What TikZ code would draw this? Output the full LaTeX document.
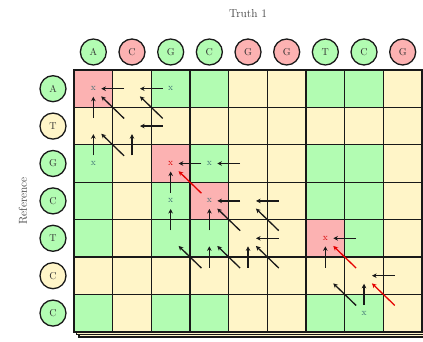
\documentclass[tikz,border=0pt]{standalone}
\usetikzlibrary{arrows.meta}
\definecolor{cgreen}{RGB}{178,252,178}
\definecolor{cred}{RGB}{252,178,178}
\definecolor{cyel}{RGB}{255,245,200}
\definecolor{xcol}{RGB}{60,110,115}
\definecolor{linec}{RGB}{25,25,25}
\begin{document}
\begin{tikzpicture}[x=1pt,y=-1pt,
  cell/.style={draw=linec, line width=1.4pt, minimum width=38.67pt, minimum height=37.4pt, inner sep=0pt},
  lab/.style={circle, draw=linec, line width=1.3pt, minimum size=26pt, inner sep=0pt, font=\fontsize{10}{10}\selectfont, text=black!80},
  xm/.style={inner sep=0pt, font=\fontsize{9.5}{9.5}\selectfont, text=xcol},
  xr/.style={xm, text=red!85!black},
  arr/.style={-{Stealth[length=4.6pt,width=4.6pt]}, line width=1.3pt, draw=linec, shorten <=8pt, shorten >=8pt},
  darr/.style={arr, shorten <=11pt, shorten >=11pt},
  rarr/.style={darr, draw=red!90!black},
  shad/.style={draw=linec, line width=1.2pt, fill=cyel}]
\useasboundingbox (0,0) rectangle (423,342);
\clip (0,0) rectangle (423,342);
% title and side label
\node[font=\fontsize{11.5}{11.5}\selectfont, text=black!75] (title) at (248,14) {Truth 1};
\node[rotate=90, font=\fontsize{11.5}{11.5}\selectfont, text=black!75] (ref) at (23,201) {Reference};
% shadow copies
\draw[shad] (79,75) rectangle (427,337);
\draw[shad] (76.5,72.5) rectangle (424.5,334.5);
% cells
\def\colg{{1,0,1,1,0,0,1,1,0}}
\def\rowg{{1,0,1,1,1,0,1}}
\foreach \r in {1,...,7}{
  \foreach \c in {1,...,9}{
    \pgfmathtruncatemacro\g{\colg[\c-1]*\rowg[\r-1]}
    \pgfmathtruncatemacro\k{\r*10+\c}
    \pgfmathtruncatemacro\isred{(\k==11)||(\k==33)||(\k==44)||(\k==57)}
    \ifnum\isred=1 \def\cf{cred}\else\ifnum\g=1 \def\cf{cgreen}\else\def\cf{cyel}\fi\fi
    \node[cell, fill=\cf] (c\r\c) at ({74+38.67*(\c-0.5)},{70+37.4*(\r-0.5)}) {};
  }
}
% column labels
\foreach \c/\t/\f in {1/A/cgreen,2/C/cred,3/G/cgreen,4/C/cgreen,5/G/cred,6/G/cred,7/T/cgreen,8/C/cgreen,9/G/cred}{
  \node[lab, fill=\f] (k\c) at ({74+38.67*(\c-0.5)},52) {\t};
}
% row labels
\foreach \r/\t/\f in {1/A/cgreen,2/T/cyel,3/G/cgreen,4/C/cgreen,5/T/cgreen,6/C/cyel,7/C/cgreen}{
  \node[lab, fill=\f] (r\r) at (53,{70+37.4*(\r-0.5)}) {\t};
}
% x marks
\foreach \n in {11,13,31,34,43,44,78}{
  \node[xm] (x\n) at (c\n.center) {x};
}
\node[xr] (x33) at (c33.center) {x};
\node[xr] (x57) at (c57.center) {x};
% horizontal arrows
\foreach \a/\b in {12/11,13/12,23/22,34/33,35/34,45/44,46/45,56/55,58/57,69/68}{
  \draw[arr] (c\a.center) -- (c\b.center);
}
% vertical arrows
\foreach \a/\b in {21/11,31/21,32/22,43/33,53/43,54/44,64/54,65/55,67/57,78/68}{
  \draw[arr] (c\a.center) -- (c\b.center);
}
% diagonal arrows
\foreach \a/\b in {22/11,23/12,32/21,55/44,56/45,64/53,65/54,66/55,78/67}{
  \draw[darr] (c\a.center) -- (c\b.center);
}
% red diagonal arrows
\foreach \a/\b in {44/33,68/57,79/68}{
  \draw[rarr] (c\a.center) -- (c\b.center);
}
\end{tikzpicture}
\end{document}
